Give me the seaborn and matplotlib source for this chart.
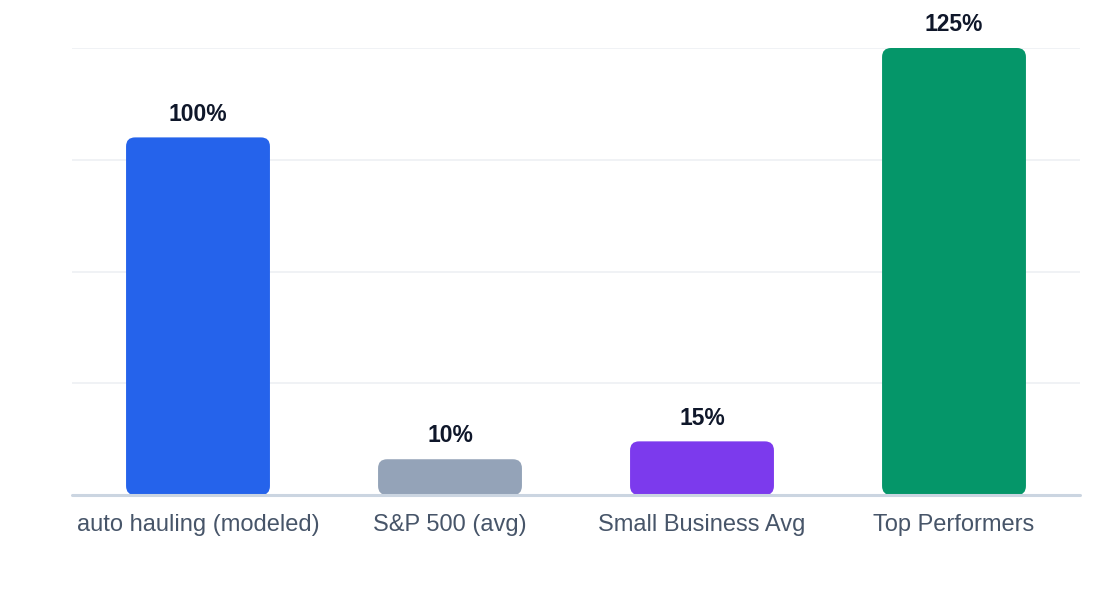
import matplotlib
matplotlib.use("Agg")
import matplotlib.pyplot as plt
from matplotlib.patches import FancyBboxPatch
import seaborn as sns
import pandas as pd

# datos del grafico
categorias = ["auto hauling (modeled)", "S&P 500 (avg)", "Small Business Avg", "Top Performers"]
valores = [100, 10, 15, 125]
colores = ["#2563EB", "#94A3B8", "#7C3AED", "#059669"]
etiquetas = ["100%", "10%", "15%", "125%"]

df = pd.DataFrame({"cat": categorias, "val": valores})

sns.set_style("white")
plt.rcParams["font.family"] = ["Liberation Sans", "DejaVu Sans"]

fig = plt.figure(figsize=(11.2, 6), dpi=100)
ax = fig.add_axes([72 / 1120, 1 - 495 / 600, 1008 / 1120, 447 / 600])

sns.barplot(data=df, x="cat", y="val", hue="cat", palette=colores,
            width=0.571, legend=False, ax=ax, saturation=1)

# barras redondeadas
ancho_px = 252.0
alto_px = 447.0 / 125
r = 9 / ancho_px
for p in list(ax.patches):
    x, y = p.get_x(), p.get_y()
    w, h = p.get_width(), p.get_height()
    fb = FancyBboxPatch((x, y), w, h,
                        boxstyle=f"round,pad=0,rounding_size={r}",
                        mutation_aspect=(9 / alto_px) / r,
                        facecolor=p.get_facecolor(), edgecolor="none", zorder=3)
    p.remove()
    ax.add_patch(fb)

for i, (v, t) in enumerate(zip(valores, etiquetas)):
    ax.annotate(t, (i, v), xytext=(0, 8.5), textcoords="offset points",
                ha="center", va="bottom", fontsize=16.5, fontweight="bold",
                color="#0F172A")

ax.set_xlim(-0.5, 3.5)
ax.set_ylim(0, 125)
ax.set_yticks([0, 31.25, 62.5, 93.75, 125])
ax.yaxis.grid(True, color="#EEF0F4", linewidth=1.2, zorder=0)
ax.set_axisbelow(True)
ax.set_yticklabels([])
ax.tick_params(axis="y", length=0)
ax.tick_params(axis="x", length=0, pad=13.5, labelsize=17, labelcolor="#475569")
ax.set_xlabel("")
ax.set_ylabel("")
for s in ax.spines.values():
    s.set_visible(False)
ax.axhline(0, color="#CBD5E1", linewidth=2.2, zorder=4, clip_on=False)

fig.savefig("out.png", dpi=100)
